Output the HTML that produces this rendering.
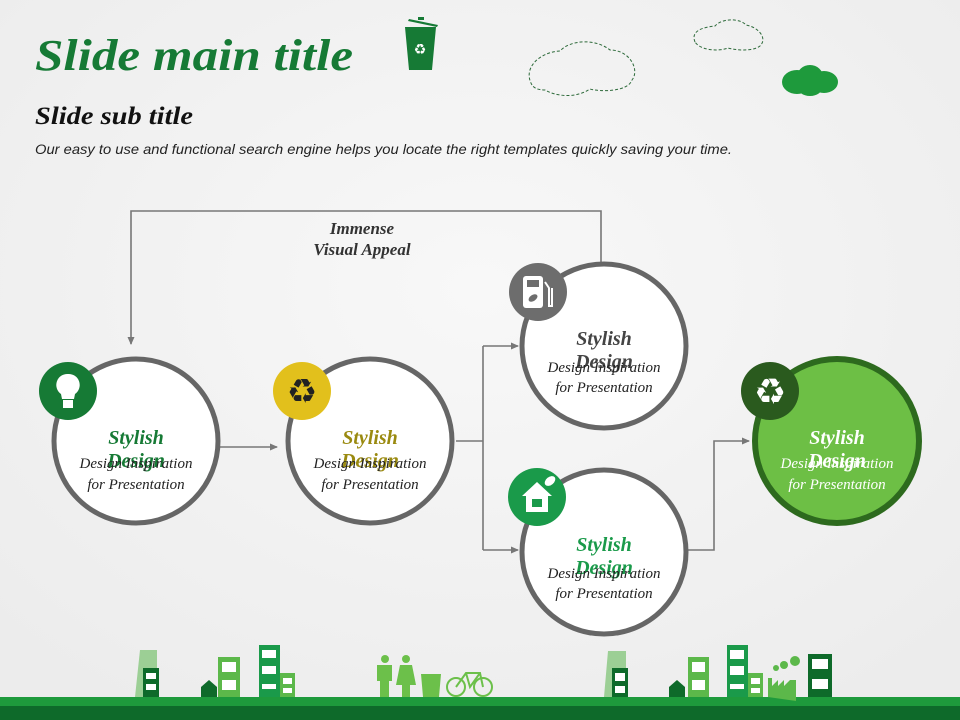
<!DOCTYPE html>
<html><head><meta charset="utf-8"><style>
html,body{margin:0;padding:0;background:#f2f2f2}
svg{display:block}
</style></head><body>
<svg width="960" height="720" viewBox="0 0 960 720" xmlns="http://www.w3.org/2000/svg">
<defs>
<radialGradient id="bg" cx="50%" cy="40%" r="70%"><stop offset="0" stop-color="#f8f8f8"/><stop offset="1" stop-color="#ececec"/></radialGradient>
<marker id="ar" markerWidth="8" markerHeight="8" refX="7" refY="4" orient="auto" markerUnits="userSpaceOnUse"><path d="M0,0.5 L8,4 L0,7.5 z" fill="#777"/></marker>
</defs>
<rect width="960" height="720" fill="url(#bg)"/>
<text x="35" y="70" font-family="Liberation Serif, serif" font-weight="bold" font-style="italic" font-size="44" fill="#167a35" textLength="318" lengthAdjust="spacingAndGlyphs">Slide main title</text>
<!-- bin -->
<g fill="#167a35"><path d="M405,27 L436,27 L432,70 L409,70 z"/><path d="M409,19 L438,25 L437,27 L408,21z"/><rect x="418" y="17" width="6" height="3"/></g>
<text x="420" y="54" font-size="14" fill="#fff" text-anchor="middle" font-family="DejaVu Sans">♻</text>
<text x="35" y="124" font-family="Liberation Serif, serif" font-weight="bold" font-style="italic" font-size="25" fill="#111" textLength="158" lengthAdjust="spacingAndGlyphs">Slide sub title</text>
<text x="35" y="154" font-family="Liberation Sans, sans-serif" font-style="italic" font-size="14" fill="#222" textLength="697" lengthAdjust="spacingAndGlyphs">Our easy to use and functional search engine helps you locate the right templates quickly  saving your time.</text>
<!-- clouds -->
<g fill="none" stroke="#2d6a3a" stroke-width="1" stroke-dasharray="3,2">
<path d="M532,85 C522,68 540,52 560,51 C570,40 595,38 610,50 C630,50 640,70 632,80 C628,92 600,92 590,89 C575,99 555,96 545,90 C538,90 534,88 532,85z"/>
<path d="M695,42 C690,30 705,27 715,26 C722,18 740,18 746,25 C758,27 768,38 760,46 C752,52 735,50 728,48 C718,52 700,50 695,42z"/>
</g>
<g fill="#1e9a3c"><ellipse cx="797" cy="82" rx="15" ry="12"/><ellipse cx="824" cy="82" rx="14" ry="11"/><ellipse cx="810" cy="77" rx="13" ry="12"/><ellipse cx="810" cy="86" rx="13" ry="10"/></g>
<!-- connectors -->
<g fill="none" stroke="#777" stroke-width="1.6">
<path d="M601,262 L601,211 L131,211 L131,344" marker-end="url(#ar)"/>
<path d="M220,447 L277,447" marker-end="url(#ar)"/>
<path d="M456,441 L483,441"/>
<path d="M483,346 L483,550"/>
<path d="M483,346 L518,346" marker-end="url(#ar)"/>
<path d="M483,550 L518,550" marker-end="url(#ar)"/>
<path d="M688,550 L714,550 L714,441 L749,441" marker-end="url(#ar)"/>
</g>
<text font-family="Liberation Serif, serif" font-weight="bold" font-style="italic" font-size="17" fill="#333" text-anchor="middle"><tspan x="362" y="234">Immense</tspan><tspan x="362" y="255">Visual Appeal</tspan></text>
<!-- circles -->
<g stroke="#666" stroke-width="5" fill="#fff">
<circle cx="136" cy="441" r="82"/>
<circle cx="370" cy="441" r="82"/>
<circle cx="604" cy="346" r="82"/>
<circle cx="604" cy="552" r="82"/>
</g>
<circle cx="837" cy="441" r="82" fill="#6dbf45" stroke="#2d6a1e" stroke-width="6"/>
<!-- icons -->
<circle cx="68" cy="391" r="29" fill="#167a35"/>
<path d="M68,374 a11,11 0 0 1 7,20 l-1,5 h-12 l-1,-5 a11,11 0 0 1 7,-20z" fill="#fff"/>
<rect x="63" y="400" width="10" height="8" fill="#fff"/>
<circle cx="302" cy="391" r="29" fill="#e2c01c"/>
<text x="302" y="403" font-size="34" fill="#222" text-anchor="middle" font-family="DejaVu Sans">♻</text>
<circle cx="538" cy="292" r="29" fill="#6d6d6d"/>
<rect x="523" y="276" width="20" height="32" rx="3" fill="#fff"/><rect x="527" y="280" width="12" height="7" fill="#6d6d6d"/>
<path d="M545,282 l4,6 v18 h3 v-18" fill="none" stroke="#fff" stroke-width="2"/>
<ellipse cx="533" cy="298" rx="5" ry="3" fill="#6d6d6d" transform="rotate(-35 533 298)"/>
<circle cx="537" cy="497" r="29" fill="#1a9a4a"/>
<path d="M522,496 L537,482 L552,496 L548,496 L548,512 L526,512 L526,496z" fill="#fff"/>
<rect x="532" y="499" width="10" height="8" fill="#1a9a4a"/>
<ellipse cx="550" cy="481" rx="6" ry="4" fill="#fff" transform="rotate(-40 550 481)"/>
<circle cx="770" cy="391" r="29" fill="#2a5a1e"/>
<text x="770" y="404" font-size="36" fill="#fff" text-anchor="middle" font-family="DejaVu Sans">♻</text>
<!-- labels -->
<g font-family="Liberation Serif, serif" font-style="italic" text-anchor="middle">
<g font-weight="bold" font-size="20">
<text x="136" y="444" fill="#167a35"><tspan x="136">Stylish</tspan><tspan x="136" dy="23">Design</tspan></text>
<text x="370" y="444" fill="#9a8a10"><tspan x="370">Stylish</tspan><tspan x="370" dy="23">Design</tspan></text>
<text x="604" y="345" fill="#444"><tspan x="604">Stylish</tspan><tspan x="604" dy="23">Design</tspan></text>
<text x="604" y="551" fill="#1a9a4a"><tspan x="604">Stylish</tspan><tspan x="604" dy="23">Design</tspan></text>
<text x="837" y="444" fill="#fff"><tspan x="837">Stylish</tspan><tspan x="837" dy="23">Design</tspan></text>
</g>
<g font-size="15">
<text fill="#222"><tspan x="136" y="468">Design Inspiration</tspan><tspan x="136" y="489">for Presentation</tspan></text>
<text fill="#222"><tspan x="370" y="468">Design Inspiration</tspan><tspan x="370" y="489">for Presentation</tspan></text>
<text fill="#222"><tspan x="604" y="372">Design Inspiration</tspan><tspan x="604" y="392">for Presentation</tspan></text>
<text fill="#222"><tspan x="604" y="578">Design Inspiration</tspan><tspan x="604" y="598">for Presentation</tspan></text>
<text fill="#fff"><tspan x="837" y="468">Design Inspiration</tspan><tspan x="837" y="489">for Presentation</tspan></text>
</g>
</g>
<!-- city -->
<g>
<rect x="0" y="697" width="960" height="9" fill="#1e9a3c"/>
<rect x="0" y="706" width="960" height="14" fill="#0e6a2a"/>
<path d="M140,650 L157,650 L157,697 L135,697z" fill="#9ccf95"/>
<rect x="143" y="668" width="16" height="29" fill="#0e6a2a"/>
<path d="M201,697 V687 L209,680 L217,687 V697z" fill="#0e6a2a"/>
<rect x="218" y="657" width="22" height="40" fill="#5cb84a"/>
<rect x="259" y="645" width="21" height="52" fill="#1a9a4a"/>
<rect x="280" y="673" width="15" height="24" fill="#5cb84a"/>
<g fill="#fff"><rect x="146" y="673" width="10" height="6"/><rect x="146" y="684" width="10" height="6"/><rect x="222" y="662" width="14" height="10"/><rect x="222" y="680" width="14" height="10"/><rect x="262" y="650" width="14" height="8"/><rect x="262" y="666" width="14" height="8"/><rect x="262" y="684" width="14" height="5"/><rect x="283" y="678" width="9" height="6"/><rect x="283" y="688" width="9" height="5"/></g>
<g fill="#6cc04a">
<circle cx="385" cy="659" r="4"/><rect x="377" y="665" width="15" height="16"/><rect x="380" y="680" width="9" height="17"/>
<circle cx="406" cy="659" r="4"/><path d="M400,665 h12 l4,20 h-20z"/><rect x="402" y="684" width="8" height="13"/>
<path d="M421,674 h20 l-2,23 h-16z"/>
</g>
<g fill="none" stroke="#6cc04a" stroke-width="2"><circle cx="456" cy="687" r="9"/><circle cx="483" cy="687" r="9"/><path d="M456,687 L466,673 L480,673 L483,687 M466,673 L470,687 L480,673"/></g>
<path d="M608,651 L626,651 L626,697 L604,697z" fill="#9ccf95"/>
<rect x="612" y="668" width="16" height="29" fill="#0e6a2a"/>
<path d="M669,697 V687 L677,680 L685,687 V697z" fill="#0e6a2a"/>
<rect x="688" y="657" width="21" height="40" fill="#5cb84a"/>
<rect x="727" y="645" width="21" height="52" fill="#1a9a4a"/>
<rect x="748" y="673" width="15" height="24" fill="#5cb84a"/>
<path d="M768,697 V678 h4 v8 l6,-6 v6 l6,-6 v6 l6,-6 h6 v21z" fill="#5cb84a"/>
<circle cx="776" cy="668" r="3" fill="#5cb84a"/><circle cx="784" cy="665" r="4" fill="#5cb84a"/><circle cx="795" cy="661" r="5" fill="#5cb84a"/>
<rect x="808" y="654" width="24" height="43" fill="#0e6a2a"/>
<g fill="#fff"><rect x="615" y="673" width="10" height="8"/><rect x="615" y="686" width="10" height="7"/><rect x="692" y="662" width="13" height="10"/><rect x="692" y="680" width="13" height="10"/><rect x="730" y="650" width="14" height="9"/><rect x="730" y="666" width="14" height="9"/><rect x="730" y="684" width="14" height="5"/><rect x="751" y="678" width="9" height="6"/><rect x="751" y="688" width="9" height="5"/><rect x="812" y="659" width="16" height="10"/><rect x="812" y="679" width="16" height="10"/></g>
</g>
</svg>
</body></html>
